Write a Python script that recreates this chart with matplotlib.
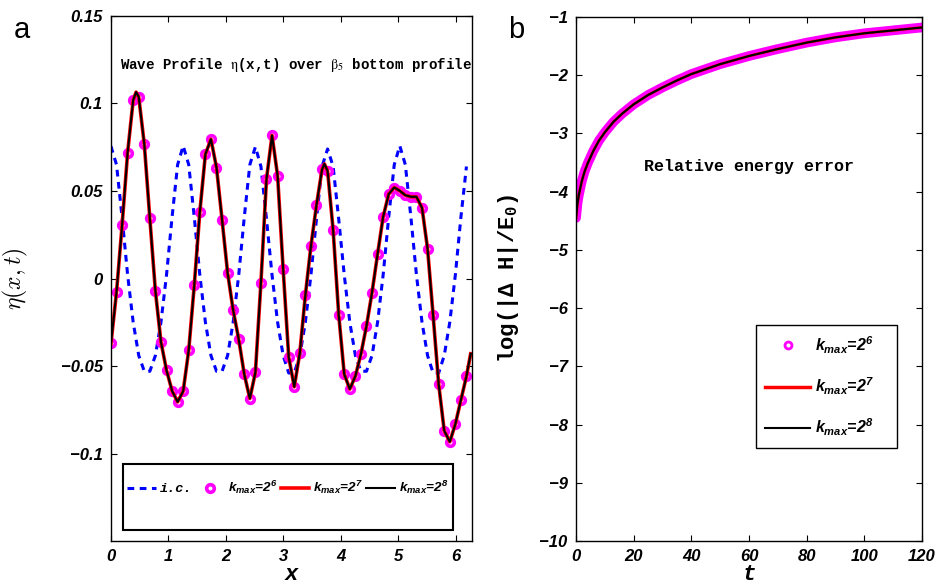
import numpy as np
import matplotlib.pyplot as plt
from matplotlib.lines import Line2D
from matplotlib.patches import Rectangle

plt.rcParams['font.family'] = 'Liberation Sans'
plt.rcParams['mathtext.fontset'] = 'custom'
plt.rcParams['mathtext.it'] = 'Liberation Sans:italic:bold'
plt.rcParams['mathtext.rm'] = 'Liberation Sans:italic:bold'
plt.rcParams['mathtext.bf'] = 'Liberation Sans:italic:bold'
plt.rcParams['mathtext.tt'] = 'Liberation Mono:bold'

# ---- panel a data: wave profile on the 65 point grid ----
n_grid = 65
x_grid = 2 * np.pi * np.arange(n_grid) / n_grid

eta_ic = [0.0756, 0.065, 0.035, 0.002, -0.025, -0.044, -0.053, -0.053, -0.044, -0.025, 0.002, 0.035, 0.065,
          0.0758, 0.065, 0.035, 0.002, -0.025, -0.044, -0.053, -0.053, -0.044, -0.025, 0.002, 0.035, 0.065,
          0.0752, 0.064, 0.034, 0.002, -0.025, -0.044, -0.054, -0.054, -0.044, -0.025, 0.002, 0.034, 0.064,
          0.0740, 0.064, 0.034, 0.002, -0.025, -0.044, -0.053, -0.053, -0.044, -0.025, 0.002, 0.035, 0.065,
          0.0758, 0.065, 0.035, 0.002, -0.025, -0.044, -0.054, -0.054, -0.044, -0.025, 0.002, 0.035, 0.0640]

eta_k6 = [-0.0371, -0.0078, 0.0303, 0.0720, 0.1019, 0.1038, 0.0768, 0.0343, -0.0072, -0.0362,
          -0.0524, -0.0642, -0.0705, -0.0644, -0.0410, -0.0038, 0.0381, 0.0710, 0.0796, 0.0634,
          0.0337, 0.0032, -0.0181, -0.0347, -0.0547, -0.0686, -0.0537, -0.0023, 0.0568, 0.0818,
          0.0587, 0.0053, -0.0448, -0.0619, -0.0425, -0.0095, 0.0185, 0.0419, 0.0623, 0.0615,
          0.0276, -0.0206, -0.0547, -0.0632, -0.0558, -0.0432, -0.0272, -0.0080, 0.0139, 0.0352,
          0.0482, 0.0520, 0.0501, 0.0476, 0.0467, 0.0467, 0.0404, 0.0170, -0.0211, -0.0604,
          -0.0870, -0.0933, -0.0832, -0.0695, -0.0558]

# extra points the finer runs show (crests the coarse grid misses, end of domain)
extra_x = [0.437, 3.715, 6.26]
extra_eta = [0.1065, 0.0655, -0.043]

# ---- panel b data: relative energy error ----
t_vals = [0, 0.5, 1, 2, 3, 4, 6, 8, 10, 13, 16, 20, 25, 30, 35, 40, 50, 60, 70, 80, 90, 100, 110, 120]
log_err = [-4.45, -4.2, -4.05, -3.82, -3.65, -3.52, -3.30, -3.12, -2.98, -2.80, -2.66, -2.50, -2.34,
           -2.21, -2.09, -1.98, -1.81, -1.67, -1.55, -1.44, -1.35, -1.28, -1.23, -1.18]

# fine line = coarse grid + extra points, sorted by x
line_x = np.concatenate([x_grid, extra_x])
line_eta = np.concatenate([eta_k6, extra_eta])
order = np.argsort(line_x)
line_x = line_x[order]
line_eta = line_eta[order]

fig = plt.figure(figsize=(9.38, 5.88), dpi=100)
ax1 = fig.add_axes([0.1183, 0.0799, 0.3849, 0.8929])
ax2 = fig.add_axes([0.6141, 0.0799, 0.3688, 0.8912])


def style_ticks(ax):
    ax.tick_params(direction='in', top=True, right=True, length=4, width=0.8, labelsize=12, pad=6)
    for lab in ax.get_xticklabels() + ax.get_yticklabels():
        lab.set_fontstyle('italic')
        lab.set_fontweight('bold')
    for sp in ax.spines.values():
        sp.set_linewidth(1.0)


# panel a
ax1.plot(x_grid, eta_ic, color='blue', lw=2.2, ls=(0, (2.2, 1.8)))
ax1.plot(x_grid, eta_k6, ls='none', marker='o', ms=5.5, mfc='none', mec='magenta', mew=2.6)
ax1.plot(line_x, line_eta, color='red', lw=2.6)
ax1.plot(line_x, line_eta, color='black', lw=1.5)
ax1.set_xlim(0, 2 * np.pi)
ax1.set_ylim(-0.15, 0.15)
ax1.set_xticks([0, 1, 2, 3, 4, 5, 6])
ax1.set_yticks([-0.1, -0.05, 0, 0.05, 0.1, 0.15])
ax1.set_yticklabels(['\u22120.1', '\u22120.05', '0', '0.05', '0.1', '0.15'])
style_ticks(ax1)
ax1.set_xlabel('x', family='Liberation Mono', fontweight='bold', fontstyle='italic', fontsize=16)
ax1.xaxis.label.set_va('center')
ax1.xaxis.set_label_coords(0.5, -0.064)
ax1.set_ylabel(r'$\eta(x,t)$', math_fontfamily='cm', fontsize=17)
ax1.yaxis.set_label_coords(-0.225, 0.5)
ax1.text(0.025, 0.907, r'Wave Profile $\mathrm{\eta}$(x,t) over $\mathrm{\beta}_5$ bottom profile',
         transform=ax1.transAxes, family='Liberation Mono', fontweight='bold', fontsize=10.2,
         va='center', ha='left', math_fontfamily='stix')

ax1.add_patch(Rectangle((0.033, 0.021), 0.914, 0.126, transform=ax1.transAxes,
                        fill=False, ec='black', lw=1.5, zorder=5))
h_a = [Line2D([], [], color='blue', lw=2.2, ls=(0, (2.2, 1.8))),
       Line2D([], [], ls='none', marker='o', ms=5.5, mfc='none', mec='magenta', mew=2.6),
       Line2D([], [], color='red', lw=2.6),
       Line2D([], [], color='black', lw=1.5)]
labels_a = ['i.c.', r'$k_{max}$=2$^6$', r'$k_{max}$=2$^7$', r'$k_{max}$=2$^8$']
leg_a = ax1.legend(h_a, labels_a, ncol=4, loc='upper left', bbox_to_anchor=(0.045, 0.118),
                   frameon=False, handlelength=2.1, handletextpad=0.3, columnspacing=0.25,
                   borderaxespad=0, borderpad=0, prop={'size': 9.7, 'weight': 'bold', 'style': 'italic'})
leg_a.get_texts()[0].set_fontfamily('Liberation Mono')

# panel b
ax2.plot(t_vals, log_err, color='magenta', lw=7, solid_capstyle='round')
ax2.plot(t_vals, log_err, color='red', lw=2)
ax2.plot(t_vals, log_err, color='black', lw=1.5)
ax2.set_xlim(0, 120)
ax2.set_ylim(-10, -1)
ax2.set_xticks([0, 20, 40, 60, 80, 100, 120])
ax2.set_yticks(list(range(-10, 0)))
style_ticks(ax2)
ax2.set_xlabel('t', family='Liberation Mono', fontweight='bold', fontstyle='italic', fontsize=16)
ax2.xaxis.label.set_va('center')
ax2.xaxis.set_label_coords(0.5, -0.064)
ax2.set_ylabel('log(|\u0394 H|/E$_{\\mathtt{0}}$)', family='Liberation Mono', fontweight='bold',
               fontsize=16)
ax2.yaxis.set_label_coords(-0.16, 0.5)
ax2.text(0.5, 0.714, 'Relative energy error', transform=ax2.transAxes, family='Liberation Mono',
         fontweight='bold', fontsize=12, ha='center', va='center')

# MATLAB style legend box, wider than its entries
ax2.add_patch(Rectangle((0.520, 0.177), 0.408, 0.236, transform=ax2.transAxes,
                        facecolor='white', ec='black', lw=1.0, zorder=4))
h_b = [Line2D([], [], ls='none', marker='o', ms=5, mfc='none', mec='magenta', mew=2),
       Line2D([], [], color='red', lw=2.5),
       Line2D([], [], color='black', lw=1.5)]
labels_b = [r'$k_{max}$=2$^6$', r'$k_{max}$=2$^7$', r'$k_{max}$=2$^8$']
leg_b = ax2.legend(h_b, labels_b, loc='upper left', bbox_to_anchor=(0.52, 0.413), borderaxespad=0,
                   labelspacing=1.25, handlelength=2.8, handletextpad=0.3, borderpad=0.6,
                   frameon=False, prop={'size': 11.5, 'weight': 'bold', 'style': 'italic'})
leg_b.set_zorder(6)

fig.text(0.0235, 0.949, 'a', fontsize=21, ha='center', va='center')
fig.text(0.550, 0.949, 'b', fontsize=21, ha='center', va='center')

fig.savefig('out.png', dpi=100)
